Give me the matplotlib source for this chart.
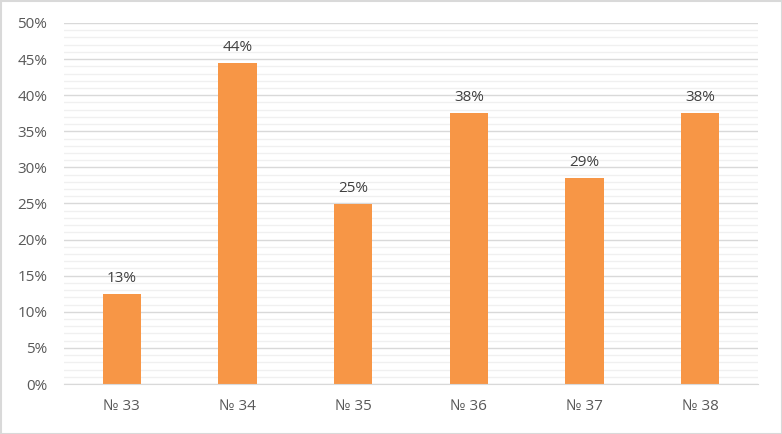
import matplotlib
matplotlib.use("Agg")
import matplotlib.pyplot as plt
from matplotlib.ticker import MultipleLocator, FuncFormatter
from matplotlib.patches import Rectangle

categories = ["№ 33", "№ 34", "№ 35", "№ 36", "№ 37", "№ 38"]
values = [0.125, 0.444, 0.25, 0.375, 0.286, 0.375]
labels = ["13%", "44%", "25%", "38%", "29%", "38%"]

plt.rcParams['font.family'] = ['Open Sans', 'DejaVu Sans']
fig = plt.figure(figsize=(7.82, 4.34), dpi=100)
ax = fig.add_axes([64/782, 1-384/434, (758-64)/782, (384-23)/434])

x = list(range(len(categories)))
bars = ax.bar(x, values, width=0.33, color='#F79646', zorder=3)
for xi, v, lab in zip(x, values, labels):
    ax.text(xi, v + 0.011, lab, ha='center', va='bottom', fontsize=11, color='#404040')

ax.set_ylim(0, 0.5)
ax.set_xlim(-0.5, len(categories) - 0.5)
ax.yaxis.set_major_locator(MultipleLocator(0.05))
ax.yaxis.set_minor_locator(MultipleLocator(0.01))
ax.yaxis.set_major_formatter(FuncFormatter(lambda v, p: f"{v*100:.0f}%"))
ax.grid(axis='y', which='major', color='#D9D9D9', linewidth=1.0, zorder=0)
ax.grid(axis='y', which='minor', color='#F0F0F0', linewidth=1.0, zorder=0)
ax.set_xticks(x)
ax.set_xticklabels(categories)
ax.tick_params(axis='both', which='both', length=0, labelsize=11, colors='#595959')
ax.tick_params(axis='x', pad=11)
ax.tick_params(axis='y', pad=12)
for s in ['top', 'right', 'left']:
    ax.spines[s].set_visible(False)
ax.spines['bottom'].set_color('#D9D9D9')
ax.spines['bottom'].set_zorder(4)

fig.patches.append(Rectangle((0.5/782, 0.5/434), 1-1/782, 1-1/434, transform=fig.transFigure,
                             fill=False, edgecolor='#D9D9D9', linewidth=1.5))
fig.savefig("out.png", dpi=100)
